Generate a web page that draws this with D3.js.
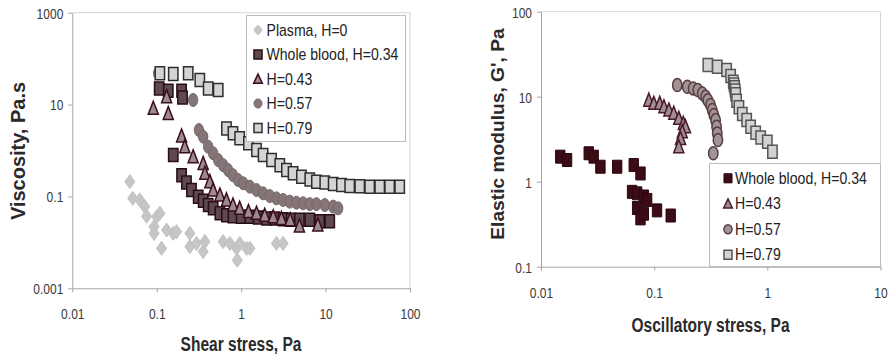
<!DOCTYPE html>
<html>
<head>
<meta charset="utf-8">
<script src="https://cdn.jsdelivr.net/npm/d3@7"></script>
<style>
body { margin: 0; background: #fff; }
svg { display: block; }
text { font-family: "Liberation Sans", Arial, sans-serif; }
</style>
</head>
<body>
<script>
// ---- data: [stress, value] ----
let plasmaShear = [[0.048,0.21],[0.052,0.091],[0.063,0.084],[0.072,0.060],[0.076,0.037],[0.100,0.036],
    [0.109,0.043],[0.093,0.022],[0.093,0.0157],[0.114,0.0074],[0.131,0.0186],[0.157,0.0157],[0.172,0.0171],
    [0.247,0.0157],[0.247,0.0081],[0.296,0.0095],[0.355,0.0063],[0.372,0.0104],[0.612,0.0104],[0.735,0.0095],
    [0.881,0.0074],[0.964,0.0095],[1.16,0.0074],[0.90,0.0041],[1.27,0.0074],[2.62,0.0095],[3.14,0.0095]];
let wbShear = [[0.107,22.5],[0.137,19.9],[0.197,19.9],[0.202,14.3],[0.157,0.80],[0.197,0.29],[0.225,0.20],
    [0.258,0.138],[0.31,0.099],[0.355,0.081],[0.407,0.065],[0.466,0.055],[0.56,0.043],[0.67,0.039],[0.80,0.037],
    [1.0,0.036],[1.27,0.036],[1.59,0.035],[2.0,0.033],[2.5,0.033],[3.14,0.032],[3.9,0.031],[4.9,0.031],
    [6.5,0.031],[8.5,0.029],[11.2,0.029]];
let h43Shear = [[0.091,8.3],[0.131,14.8],[0.137,6.4],[0.197,2.07],[0.215,1.21],[0.27,0.73],[0.355,0.52],
    [0.372,0.32],[0.426,0.21],[0.466,0.138],[0.56,0.107],[0.67,0.084],[0.80,0.065],[0.96,0.055],[1.22,0.047],
    [1.52,0.043],[1.9,0.039],[2.4,0.036],[3.0,0.033],[3.8,0.031],[4.9,0.0227],[8.1,0.0238]];
let h57Shear = [[0.104,47.8],[0.27,12.6],[0.316,2.79],[0.355,2.0],[0.407,1.21],[0.466,0.87],[0.535,0.62],
    [0.612,0.48],[0.70,0.376],[0.80,0.29],[0.92,0.228],[1.06,0.193],[1.27,0.163],[1.52,0.138],[1.82,0.117],
    [2.18,0.102],[2.62,0.091],[3.14,0.084],[3.77,0.077],[4.52,0.073],[5.42,0.071],[6.50,0.068],[7.79,0.068],
    [9.78,0.065],[12.3,0.060],[14.1,0.055]];
let h79Shear = [[0.109,47.8],[0.157,46.2],[0.236,47.8],[0.324,34.2],[0.407,22.5],[0.535,20.7],[0.67,3.03],
    [0.80,2.36],[0.96,1.84],[1.22,1.43],[1.52,1.02],[1.82,0.80],[2.29,0.62],[2.87,0.48],[3.44,0.376],
    [4.12,0.32],[5.18,0.269],[6.5,0.235],[7.79,0.21],[9.78,0.20],[12.3,0.186],[15.4,0.177],[19.3,0.169],
    [25.4,0.166],[33.3,0.163],[43.8,0.163],[57.4,0.163],[75.5,0.163]];

let wbOsc = [[0.0148,1.97],[0.0170,1.80],[0.0264,2.16],[0.0292,1.97],[0.0335,1.50],[0.0471,1.50],[0.066,1.57],
    [0.0757,1.25],[0.0638,0.76],[0.0707,0.73],[0.081,0.67],[0.0867,0.61],[0.0707,0.49],[0.0757,0.37],
    [0.081,0.42],[0.106,0.46],[0.140,0.40]];
let h43Osc = [[0.0897,9.1],[0.0993,8.35],[0.112,8.35],[0.122,7.6],[0.135,6.97],[0.149,6.37],[0.165,5.56],
    [0.181,4.85],[0.189,4.44],[0.177,3.87],[0.171,3.23],[0.165,2.58]];
let h57Osc = [[0.160,13.7],[0.196,13.1],[0.221,12.5],[0.243,12.0],[0.266,10.9],[0.285,10.0],[0.298,9.1],
    [0.315,7.98],[0.326,6.97],[0.337,6.09],[0.349,5.31],[0.356,4.44],[0.361,3.70],[0.366,3.09],[0.333,2.16]];
let h79Osc = [[0.298,23.6],[0.361,22.5],[0.437,20.6],[0.474,17.5],[0.500,15.0],[0.507,13.9],[0.514,12.9],
    [0.520,11.8],[0.525,10.7],[0.535,8.97],[0.561,7.5],[0.601,6.25],[0.657,5.31],[0.712,4.44],[0.789,3.77],
    [0.873,3.32],[1.0,2.96],[1.11,2.25]];

let shearTicks = [0.01, 0.1, 1, 10, 100];
let viscTicks = [0.001, 0.1, 10, 1000];
let oscTicks = [0.01, 0.1, 1, 10];
let modTicks = [0.1, 1, 10, 100];

let leftLabels = ["Plasma, H=0", "Whole blood, H=0.34", "H=0.43", "H=0.57", "H=0.79"];
let rightLabels = ["Whole blood, H=0.34", "H=0.43", "H=0.57", "H=0.79"];

// ---- drawing ----
let svg = d3.select("body").append("svg").attr("width", 892).attr("height", 359);

const SQ = 0.72; // markers and text are squashed horizontally in the picture

let shapes = {
    diamond: "M0,-7L7,0L0,7L-7,0Z",
    square: "M-6.5,-6.5H6.5V6.5H-6.5Z",
    triangle: "M0,-7L7,6L-7,6Z",
    circle: d3.symbol(d3.symbolCircle, Math.PI * 6.5 * 6.5)()
};

function drawPanel(p) {
    let x = d3.scaleLog().domain(p.xDomain).range([p.left, p.right]);
    let y = d3.scaleLog().domain(p.yDomain).range([p.bottom, p.top]);
    let g = svg.append("g");

    g.append("path")
        .attr("d", `M${p.left},${p.top}H${p.right}V${p.bottom}`)
        .attr("fill", "none")
        .attr("stroke", "#d4d4d4");

    let gx = g.append("g")
        .attr("transform", `translate(0,${p.bottom})`)
        .call(d3.axisBottom(x).tickValues(p.xTicks).tickSize(4).tickSizeOuter(0).tickFormat(d => String(d)));
    let gy = g.append("g")
        .attr("transform", `translate(${p.left},0)`)
        .call(d3.axisLeft(y).tickValues(p.yTicks).tickSize(4).tickSizeOuter(0).tickFormat(d => String(d)));
    for (let ax of [gx, gy]) {
        ax.attr("font-size", 15).attr("font-family", null);
        ax.select(".domain").attr("stroke", "#a4a4a4");
        ax.selectAll(".tick line").attr("stroke", "#a4a4a4");
        ax.selectAll(".tick text").attr("fill", "#3a3a3a");
    }
    gx.selectAll(".tick text")
        .attr("y", 31).attr("dy", 0)
        .attr("transform", "scale(0.8,1)");
    gy.selectAll(".tick text")
        .attr("x", -9 / 0.8).attr("dy", "0.36em")
        .attr("transform", "scale(0.8,1)");

    for (let s of p.series) {
        g.append("g")
            .selectAll("path")
            .data(s.data)
            .join("path")
            .attr("d", shapes[s.shape])
            .attr("transform", d => `translate(${x(d[0])},${y(d[1])}) scale(${SQ},1)`)
            .attr("fill", s.fill)
            .attr("stroke", s.stroke)
            .attr("stroke-width", s.sw)
            .attr("vector-effect", "non-scaling-stroke");
    }

    // axis titles
    g.append("text")
        .attr("transform", `translate(${p.xTitlePos[0]},${p.xTitlePos[1]}) scale(0.74,1)`)
        .attr("text-anchor", "middle")
        .attr("font-weight", "bold")
        .attr("font-size", 21)
        .attr("fill", "#2a2a2a")
        .text(p.xTitle);
    g.append("text")
        .attr("transform", `translate(${p.yTitlePos[0]},${p.yTitlePos[1]}) rotate(-90)`)
        .attr("text-anchor", "middle")
        .attr("font-weight", "bold")
        .attr("font-size", p.yTitleSize)
        .attr("fill", "#2a2a2a")
        .text(p.yTitle);

    // legend
    let L = p.legend;
    let lg = g.append("g");
    lg.append("rect")
        .attr("x", L.x).attr("y", L.y).attr("width", L.w).attr("height", L.h)
        .attr("fill", "#fff").attr("stroke", "#bdbdbd");
    p.series.forEach((s, i) => {
        let cy = L.row0 + i * L.step;
        lg.append("path")
            .attr("d", shapes[s.shape])
            .attr("transform", `translate(${L.mx},${cy}) scale(0.62,0.7)`)
            .attr("fill", s.fill)
            .attr("stroke", s.stroke)
            .attr("stroke-width", s.sw)
            .attr("vector-effect", "non-scaling-stroke");
        lg.append("text")
            .attr("transform", `translate(${L.tx},${cy + 5.6}) scale(0.88,1)`)
            .attr("font-size", 16)
            .attr("fill", "#222")
            .text(L.labels[i]);
    });
}

drawPanel({
    xDomain: [0.01, 100], yDomain: [0.001, 1000],
    left: 72.3, right: 410, top: 12.7, bottom: 288.3,
    xTicks: shearTicks, yTicks: viscTicks,
    xTitle: "Shear stress, Pa", xTitlePos: [241, 351],
    yTitle: "Viscosity, Pa.s", yTitlePos: [24.5, 151], yTitleSize: 20,
    series: [
        {data: plasmaShear, shape: "diamond", fill: "#c6c6c6", stroke: "#c0c0c0", sw: 1},
        {data: wbShear, shape: "square", fill: "#5e4a4e", stroke: "#2a0c14", sw: 1.5},
        {data: h43Shear, shape: "triangle", fill: "#9c8a90", stroke: "#3a0c1c", sw: 1.5},
        {data: h57Shear, shape: "circle", fill: "#857577", stroke: "#76676a", sw: 1},
        {data: h79Shear, shape: "square", fill: "#d4d4d4", stroke: "#2e2e2e", sw: 1.5}
    ],
    legend: {x: 246.5, y: 15.5, w: 159, h: 126, row0: 30, step: 24.5, mx: 258, tx: 266.5, labels: leftLabels}
});

drawPanel({
    xDomain: [0.01, 10], yDomain: [0.1, 100],
    left: 541, right: 880.5, top: 11.7, bottom: 266.7,
    xTicks: oscTicks, yTicks: modTicks,
    xTitle: "Oscillatory stress, Pa", xTitlePos: [710.5, 331.7],
    yTitle: "Elastic modulus, G', Pa", yTitlePos: [503.5, 134], yTitleSize: 19.2,
    series: [
        {data: wbOsc, shape: "square", fill: "#3c0c16", stroke: "#2a0610", sw: 1},
        {data: h43Osc, shape: "triangle", fill: "#a08e96", stroke: "#4a1a2a", sw: 1.5},
        {data: h57Osc, shape: "circle", fill: "#a09494", stroke: "#5a3c44", sw: 1.5},
        {data: h79Osc, shape: "square", fill: "#d2d2d2", stroke: "#555", sw: 1.5}
    ],
    legend: {x: 709.5, y: 163.5, w: 171, h: 103, row0: 178.3, step: 25.5, mx: 728, tx: 735, labels: rightLabels}
});
</script>
</body>
</html>
